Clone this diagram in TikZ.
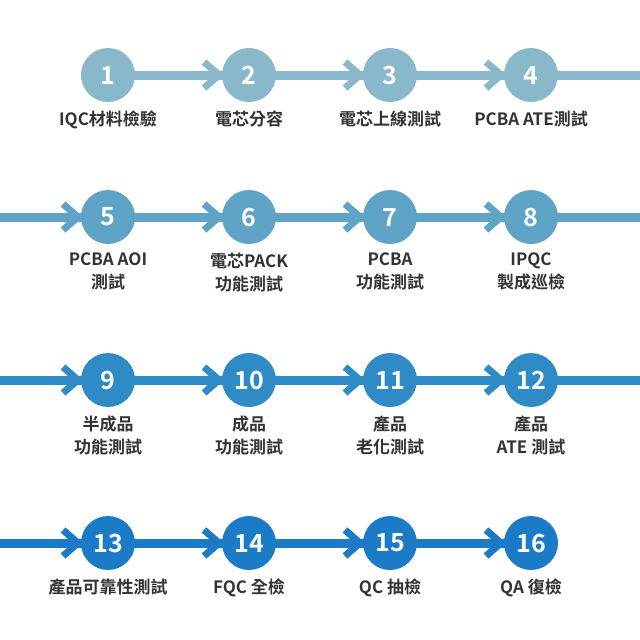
\documentclass[tikz,border=0pt]{standalone}
\usepackage{fontspec}
\setmainfont{Noto Sans CJK TC}[BoldFont={* Bold}]
\begin{document}
\begin{tikzpicture}
  [x=1pt, y=-1pt,
   stage/.style = {circle, minimum size = 54pt, inner sep = 0pt, text = white,
                  font = \fontsize{25}{25}\selectfont\bfseries},
   band/.style = {line width = 9pt},
   chev/.style = {line width = 7pt, line cap = butt, line join = miter},
   caption/.style = {align = center, text = black!80,
                   font = \fontsize{17}{23}\selectfont\bfseries}]
  \useasboundingbox (0,0) rectangle (640,640);
  \definecolor{rowa}{HTML}{8AB8CB}
  \definecolor{rowb}{HTML}{5FA3C6}
  \definecolor{rowc}{HTML}{2E8BC6}
  \definecolor{rowd}{HTML}{1B7BC6}
  % rows: y position, colour, first number, labels
  \foreach \y/\c/\n/\la/\lb/\lc/\ld/\start/\stop in
    {75/rowa/1/IQC材料檢驗/電芯分容/電芯上線測試/PCBA ATE測試/108/640,
     217/rowb/5/PCBA AOI\\測試/電芯PACK\\功能測試/PCBA\\功能測試/IPQC\\製成巡檢/0/640,
     380/rowc/9/半成品\\功能測試/成品\\功能測試/產品\\老化測試/產品\\ATE 測試/0/640,
     543/rowd/13/產品可靠性測試/FQC 全檢/QC 抽檢/QA 復檢/0/531} {
    \coordinate (s\n) at (\start,\y);
    \coordinate (e\n) at (\stop,\y);
    \draw[band, \c] (s\n) -- (e\n);
    \foreach \x [count=\i from 0] in {108,249,390,531} {
      \pgfmathtruncatemacro\k{\n+\i}
      \ifnum\i>0 \def\go{1}\else\ifnum\start=0 \def\go{1}\else\def\go{0}\fi\fi
      \ifnum\go=1
        \draw[chev, \c] (\x-45,\y-13) -- (\x-30,\y) -- (\x-45,\y+13);
      \fi
      \node[stage, fill=\c] (p\k) at (\x,\y) {\k};
    }
    \node[caption, anchor=north] (t\n) at ([yshift=-5pt]p\n.south) {\la};
    \pgfmathtruncatemacro\m{\n+1}
    \node[caption, anchor=north] at ([yshift=-5pt]p\m.south) {\lb};
    \pgfmathtruncatemacro\m{\n+2}
    \node[caption, anchor=north] at ([yshift=-5pt]p\m.south) {\lc};
    \pgfmathtruncatemacro\m{\n+3}
    \node[caption, anchor=north] at ([yshift=-5pt]p\m.south) {\ld};
  }
\end{tikzpicture}
\end{document}
